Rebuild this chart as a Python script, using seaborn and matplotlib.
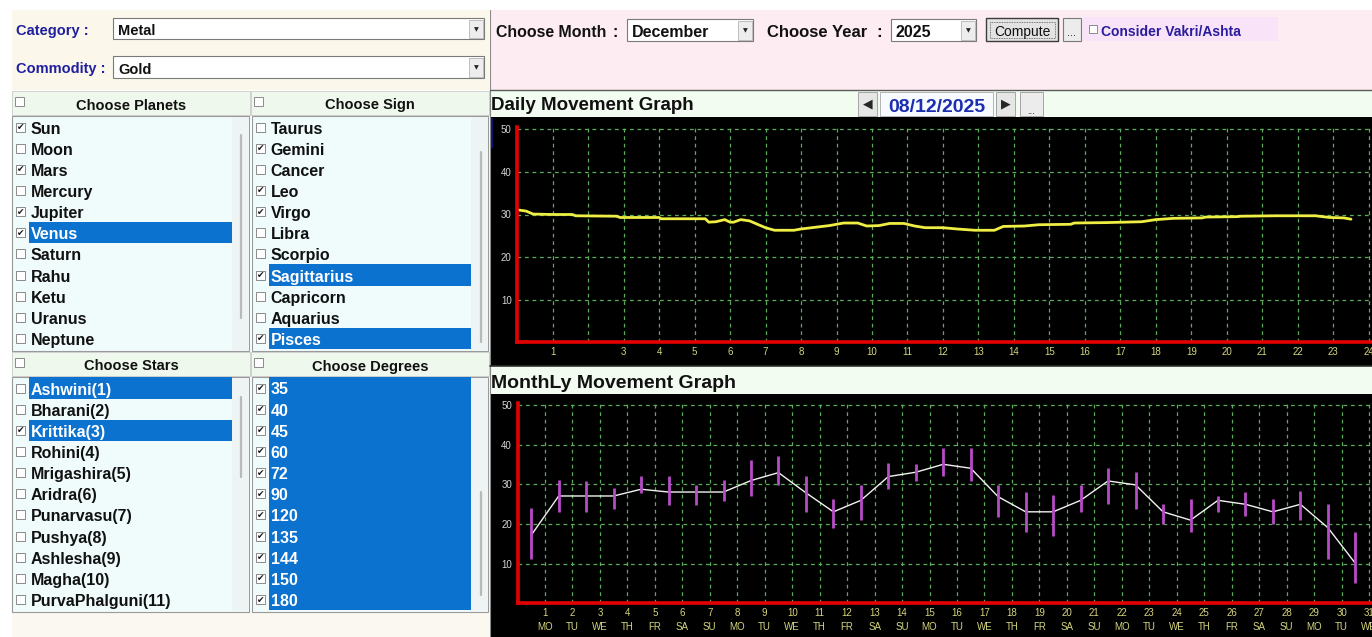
import numpy as np
import pandas as pd
import seaborn as sns
import matplotlib.pyplot as plt
from matplotlib.patches import Rectangle
from matplotlib import font_manager

# ---- values ----
category = "Metal"
commodity = "Gold"
month = "December"
year = "2025"
date_shown = "08/12/2025"

planets = ['Sun', 'Moon', 'Mars', 'Mercury', 'Jupiter', 'Venus', 'Saturn',
           'Rahu', 'Ketu', 'Uranus', 'Neptune']
planets_checked = [1, 0, 1, 0, 1, 1, 0, 0, 0, 0, 0]
planets_selected = ['Venus']

signs = ['Taurus', 'Gemini', 'Cancer', 'Leo', 'Virgo', 'Libra', 'Scorpio',
         'Sagittarius', 'Capricorn', 'Aquarius', 'Pisces']
signs_checked = [0, 1, 0, 1, 1, 0, 0, 1, 0, 0, 1]
signs_selected = ['Sagittarius', 'Pisces']

stars = ['Ashwini(1)', 'Bharani(2)', 'Krittika(3)', 'Rohini(4)', 'Mrigashira(5)',
         'Aridra(6)', 'Punarvasu(7)', 'Pushya(8)', 'Ashlesha(9)', 'Magha(10)',
         'PurvaPhalguni(11)']
stars_checked = [0, 0, 1, 0, 0, 0, 0, 0, 0, 0, 0]
stars_selected = ['Ashwini(1)', 'Krittika(3)']

degrees = ['35', '40', '45', '60', '72', '90', '120', '135', '144', '150', '180']
degrees_checked = [1] * 11
degrees_selected = degrees

# daily movement (hour of day, value)
hours = [0.0, 0.25, 0.45, 1.0, 1.55, 1.65, 2.8, 2.9, 4.0, 4.05, 5.3, 5.4, 5.6,
         5.85, 6.0, 6.1, 6.3, 6.55, 6.8, 7.0, 7.25, 7.8, 8.0, 8.4, 8.8, 9.2,
         9.6, 9.85, 10.2, 10.5, 10.9, 11.2, 11.5, 12.0, 12.4, 12.9, 13.45, 13.7,
         14.3, 14.7, 15.6, 15.7, 16.6, 17.6, 18.0, 18.5, 19.3, 19.4, 20.3, 20.4,
         21.4, 22.5, 22.9, 23.3, 23.5]
daily_value = [31.1, 30.8, 30.1, 30.0, 30.0, 29.7, 29.6, 29.3, 29.3, 29.0, 29.0,
               28.2, 28.3, 28.8, 28.2, 28.2, 28.8, 28.5, 27.6, 26.9, 26.3, 26.3,
               26.6, 27.0, 27.4, 28.0, 28.0, 27.3, 27.4, 27.9, 27.9, 27.3, 26.9,
               26.9, 26.6, 26.3, 26.3, 27.2, 27.3, 27.6, 27.7, 28.0, 28.1, 28.3,
               28.8, 29.1, 29.2, 29.4, 29.5, 29.6, 29.7, 29.7, 29.3, 29.2, 28.9]
hour_ticks = list(range(1, 25))
hour_labels = ['1', '', '3', '4', '5', '6', '7', '8', '9', '10', '11', '12', '13',
               '14', '15', '16', '17', '18', '19', '20', '21', '22', '23', '24']

# monthly movement
days = list(range(1, 32))
day_names = ['MO', 'TU', 'WE', 'TH', 'FR', 'SA', 'SU', 'MO', 'TU', 'WE', 'TH',
             'FR', 'SA', 'SU', 'MO', 'TU', 'WE', 'TH', 'FR', 'SA', 'SU', 'MO',
             'TU', 'WE', 'TH', 'FR', 'SA', 'SU', 'MO', 'TU', 'WE']
month_close = [17.2, 27.1, 27.1, 27.1, 28.8, 28.1, 28.1, 28.1, 31.0, 33.0, 27.9,
               23.1, 26.0, 32.0, 33.1, 35.1, 34.1, 26.9, 23.1, 23.1, 26.0, 30.9,
               29.9, 23.1, 21.0, 26.0, 25.0, 23.1, 25.0, 19.1, 10.1]
month_high = [24.1, 31.1, 31.0, 29.0, 32.1, 32.1, 29.9, 31.1, 36.1, 37.2, 32.1,
              26.3, 29.9, 35.4, 35.2, 39.3, 39.3, 29.9, 28.2, 27.3, 29.9, 34.2,
              33.2, 25.2, 26.3, 27.2, 28.2, 26.3, 28.3, 25.2, 18.1]
month_low = [11.2, 23.1, 23.1, 23.8, 27.9, 24.8, 24.8, 25.9, 27.2, 29.9, 23.1,
             18.9, 21.0, 28.9, 31.0, 32.1, 31.0, 21.9, 18.1, 17.1, 23.0, 25.0,
             23.8, 19.9, 18.1, 23.0, 22.1, 19.9, 21.0, 11.2, 5.1]
level_ticks = [10, 20, 30, 40, 50]

# ---- style ----
sns.set_style('white')
plt.rcParams['font.family'] = ['Liberation Sans', 'DejaVu Sans']
installed = {f.name for f in font_manager.fontManager.ttflist}
NARROW = ['Liberation Sans Narrow', 'DejaVu Sans'] if 'Liberation Sans Narrow' in installed \
    else ['Liberation Sans', 'DejaVu Sans']
SYM = ['DejaVu Sans']

W, H = 1372, 637
fig = plt.figure(figsize=(W / 100, H / 100), dpi=100)
fig.patch.set_facecolor('white')

# whole-window axes in pixel units for the form widgets
ui = fig.add_axes([0, 0, 1, 1])
ui.set_xlim(0, W)
ui.set_ylim(H, 0)
ui.axis('off')


def box(x, y, w, h, fc, ec='none', lw=0.8, z=1, ls='-'):
    ui.add_patch(Rectangle((x, y), w, h, facecolor=fc, edgecolor=ec,
                           linewidth=lw, zorder=z, linestyle=ls))


def label(x, y, s, size=10.5, color='#111111', ha='left', weight='bold', family=None, z=5):
    ui.text(x, y, s, fontsize=size, color=color, ha=ha, va='center_baseline',
            fontweight=weight, family=family or ['Liberation Sans', 'DejaVu Sans'], zorder=z)


def checkbox(x, y, checked, size=9):
    box(x, y - size / 2, size, size, 'white', '#8a8a8a', 0.7, z=4)
    if checked:
        ui.text(x + size / 2, y + 0.5, '\u2714', fontsize=6.5, ha='center', va='center',
                color='#1a1a1a', family=SYM, zorder=6)


def combo(x, y, w, h, text, size=10.5, family=None):
    box(x, y, w, h, 'white', '#7a7a7a', 0.8, z=2)
    box(x + w - 15, y + 1.5, 13.5, h - 3, '#ededed', '#b5b5b5', 0.6, z=3)
    ui.text(x + w - 8, y + h / 2 + 1, '\u25BC', fontsize=4.5, ha='center', va='center',
            color='#222222', family=SYM, zorder=4)
    label(x + 5, y + h / 2 + 1, text, size, family=family)


def list_panel(x0, y0, w, h, items, checked, selected, cb_x, hl_x0, hl_x1, bar_x, bar_y):
    box(x0, y0, w, h, '#f0fcfc', '#9a9a9a', 0.8, z=1)
    box(hl_x1, y0 + 1, x0 + w - hl_x1 - 1, h - 2, '#eef3f3', z=1.5)
    ui.plot([bar_x, bar_x], bar_y, color='#b9b9b9', lw=1.6, zorder=2, solid_capstyle='round')
    for i, name in enumerate(items):
        yc = y0 + 11 + 21.15 * i
        sel = name in selected
        if sel:
            box(hl_x0, yc - 10.6, hl_x1 - hl_x0, 21.2, '#0b72d0', z=2)
        checkbox(cb_x, yc, checked[i])
        label(hl_x0 + 1.5, yc + 0.5, name, 11.5, 'white' if sel else '#111111')


def header(x0, y0, w, h, title):
    box(x0, y0, w, h, '#eff8ec', '#c9c9c9', 0.6, z=1)
    box(x0 + 3, y0 + 6, 9, 9, 'white', '#8a8a8a', 0.7, z=3)
    label(x0 + w / 2, y0 + h / 2 + 1, title, 10.5, ha='center')


# ---- left form ----
box(12, 10, 477, 80, '#fcf7eb')
box(12, 612, 477, 25, '#fbf8f1')
label(16, 29, 'Category :', 10.5, '#1f1f9f')
combo(113, 18, 371, 21, category)
label(16, 67, 'Commodity :', 10.5, '#1f1f9f')
combo(113, 56, 371, 22, commodity)

header(12, 91, 238, 24, 'Choose Planets')
header(251, 91, 238, 24, 'Choose Sign')
list_panel(12, 116, 237, 235, planets, planets_checked, planets_selected,
           16, 29, 232, 241, [135, 318])
list_panel(252, 116, 236, 235, signs, signs_checked, signs_selected,
           256, 269, 471, 481, [152, 342])
header(12, 352, 238, 24, 'Choose Stars')
header(251, 352, 238, 24, 'Choose Degrees')
list_panel(12, 377, 237, 235, stars, stars_checked, stars_selected,
           16, 29, 232, 241, [397, 477])
list_panel(252, 377, 236, 235, degrees, degrees_checked, degrees_selected,
           256, 269, 471, 481, [492, 595])

# ---- right form ----
box(490, 10, 882, 80, '#fdecf1')
ui.plot([489.5, 489.5], [10, 637], color='#8a8a8a', lw=0.8, zorder=3)
ui.plot([490, W], [89.5, 89.5], color='#5a5a5a', lw=1.0, zorder=3)
label(496, 31, 'Choose Month', 11.4, family=NARROW)
label(613, 31, ':', 11.4, family=NARROW)
combo(627, 19, 126, 22, month, 11.5, NARROW)
label(767, 31, 'Choose Year', 12, family=NARROW)
label(876, 31, ':', 12, family=NARROW)
combo(891, 19, 85, 22, year, 11.5, NARROW)
box(986, 18, 72, 23, '#e3e3e3', '#3c3c3c', 1.0, z=2)
box(989.5, 21.5, 65, 16, 'none', '#555555', 0.6, z=3, ls=(0, (1, 1)))
label(1022, 30.5, 'Compute', 10, ha='center', weight='normal', family=NARROW)
box(1063, 18, 18, 23, '#ececec', '#7a7a7a', 0.8, z=2)
label(1072, 32, '...', 8, ha='center', weight='normal')
box(1083, 17, 195, 24, '#f8e3f8', z=1.5)
box(1089, 25, 8, 8, 'white', '#8a8a8a', 0.7, z=3)
label(1101, 30, 'Consider Vakri/Ashta', 10, '#2a1c9c', family=NARROW)

# graph title bars
box(490, 90.5, 882, 27, '#f3fcf0')
label(491, 104, 'Daily Movement Graph', 13.5)
box(858, 92, 19, 24, '#e6e6e6', '#a5a5a5', 0.7, z=2)
ui.text(867.5, 104, '\u25C0', fontsize=9, ha='center', va='center', family=SYM, zorder=4)
box(880, 92, 113, 24, '#f7fbff', '#b5b5b5', 0.7, z=2)
label(936.5, 105, date_shown, 14, '#1b2db0', ha='center')
box(996, 92, 19, 24, '#e6e6e6', '#a5a5a5', 0.7, z=2)
ui.text(1005.5, 104, '\u25B6', fontsize=9, ha='center', va='center', family=SYM, zorder=4)
box(1020, 92, 23, 24, '#ececec', '#a5a5a5', 0.7, z=2)
label(1031.5, 110, '...', 7, ha='center', weight='normal')

box(490, 117, 882, 249, 'black')
box(490, 118, 3, 30, '#101070', z=1.2)
box(490, 366, 882, 28, '#f3fcf1')
ui.plot([490, W], [366, 366], color='#303030', lw=1.2, zorder=3)
label(491, 381, 'MonthLy Movement Graph', 14)
box(490, 394, 882, 243, 'black')


def pix_axes(x, y_top, w, h):
    return fig.add_axes([x / W, 1 - (y_top + h) / H, w / W, h / H])


def style_chart(ax, xmax):
    ax.set_facecolor('black')
    ax.set_xlim(0, xmax)
    ax.set_ylim(0, 50.5)
    ax.set_axisbelow(True)
    ax.grid(True, color='#5aae5a', lw=0.9, ls=(0, (3, 3)))
    for side in ['top', 'right']:
        ax.spines[side].set_visible(False)
    for side in ['left', 'bottom']:
        ax.spines[side].set_color('#e50000')
        ax.spines[side].set_linewidth(2.6)
    ax.set_yticks(level_ticks)
    ax.tick_params(axis='y', length=0, labelsize=7, labelcolor='#d4d4d4', pad=4)
    ax.tick_params(axis='x', length=0, labelsize=7, labelcolor='#d6d67e', pad=3.5)
    ax.set_xlabel('')
    ax.set_ylabel('')


# ---- daily chart ----
px_hour = 35.48
ax_d = pix_axes(517.2, 342.3 - 50.5 * 4.26, W - 517.2, 50.5 * 4.26)
daily = pd.DataFrame({'hour': hours, 'value': daily_value})
sns.lineplot(data=daily, x='hour', y='value', ax=ax_d, color='#eeee44', lw=2)
style_chart(ax_d, (W - 517.2) / px_hour)
ax_d.set_xticks(hour_ticks, hour_labels)

# ---- monthly chart ----
px_day = 27.47
ax_m = pix_axes(517.5, 603.3 - 50.5 * 3.96, W - 517.5, 50.5 * 3.96)
monthly = pd.DataFrame({'day': days, 'close': month_close,
                        'high': month_high, 'low': month_low})
monthly['pos'] = monthly['day'] - 0.5
ax_m.vlines(monthly['pos'], monthly['low'], monthly['high'], color='#b64cc6', lw=2, zorder=3)
sns.lineplot(data=monthly, x='pos', y='close', ax=ax_m, color='#f2f2f2', lw=1, zorder=2.5)
style_chart(ax_m, (W - 517.5) / px_day)
ax_m.set_xticks(days, [f'{d}\n{n}' for d, n in zip(days, day_names)])
for t in ax_m.get_xticklabels():
    t.set_linespacing(1.45)

fig.savefig('out.png', dpi=100, facecolor='white')
